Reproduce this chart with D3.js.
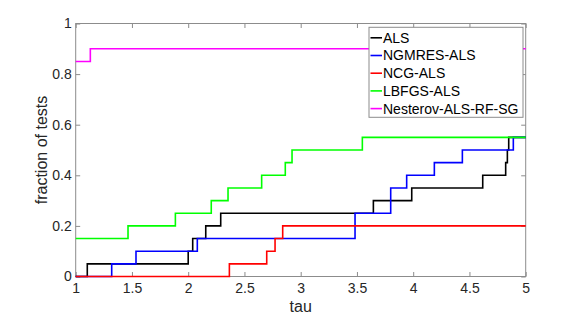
<!DOCTYPE html>
<html>
<head>
<script src="https://d3js.org/d3.v7.min.js"></script>
<style>
  body { margin: 0; background: #fff; }
  text { font-family: "Liberation Sans", Arial, sans-serif; }
</style>
</head>
<body>
<script>
// step data: tau where each step starts, and fraction of tests from there on
var alsTau = [1, 1.103, 2.0, 2.04, 2.156, 2.289, 3.646, 3.987, 4.618, 4.822, 4.837, 4.849, 5];
var alsVal = [0, 0.05, 0.1, 0.15, 0.2, 0.25, 0.3, 0.35, 0.4, 0.45, 0.5, 0.55, 0.55];

var ngmresTau = [1, 1.32, 1.536, 2.081, 3.483, 3.8, 3.942, 4.188, 4.437, 4.89, 5];
var ngmresVal = [0, 0.05, 0.1, 0.15, 0.25, 0.35, 0.4, 0.45, 0.5, 0.55, 0.55];

var ncgTau = [1, 2.366, 2.698, 2.772, 2.84, 5];
var ncgVal = [0, 0.05, 0.1, 0.15, 0.2, 0.2];

var lbfgsTau = [1, 1.465, 1.886, 2.205, 2.354, 2.653, 2.863, 2.923, 3.548, 5];
var lbfgsVal = [0.15, 0.2, 0.25, 0.3, 0.35, 0.4, 0.45, 0.5, 0.55, 0.55];

var nesterovTau = [1, 1.13, 5];
var nesterovVal = [0.85, 0.9, 0.9];

var names = ["ALS", "NGMRES-ALS", "NCG-ALS", "LBFGS-ALS", "Nesterov-ALS-RF-SG"];
var colors = ["#000000", "#0000ff", "#ff0000", "#00ff00", "#ff00ff"];
var xTicks = [1, 1.5, 2, 2.5, 3, 3.5, 4, 4.5, 5];
var yTicks = [0, 0.2, 0.4, 0.6, 0.8, 1];

var series = [
  [alsTau, alsVal], [ngmresTau, ngmresVal], [ncgTau, ncgVal],
  [lbfgsTau, lbfgsVal], [nesterovTau, nesterovVal]
];

var W = 581, H = 318;
var m = {left: 75.7, right: 55.3, top: 23.5, bottom: 41.5};
var pw = W - m.left - m.right, ph = H - m.top - m.bottom;

var svg = d3.select("body").append("svg").attr("width", W).attr("height", H);
var g = svg.append("g").attr("transform", "translate(" + m.left + "," + m.top + ")");

var x = d3.scaleLinear().domain([1, 5]).range([0, pw]);
var y = d3.scaleLinear().domain([0, 1]).range([ph, 0]);

var axisColor = "#8c8c8c";
var tl = 4.5;

// axes with inward ticks, box on
function styleAxis(sel) {
  sel.select(".domain").remove();
  sel.selectAll(".tick line").attr("stroke", axisColor);
  sel.selectAll(".tick text").attr("fill", "#262626").attr("font-size", "14px");
}
g.append("g").attr("transform", "translate(0," + ph + ")")
  .call(d3.axisBottom(x).tickValues(xTicks).tickSize(-tl).tickPadding(7).tickFormat(d3.format("")))
  .call(styleAxis);
g.append("g")
  .call(d3.axisTop(x).tickValues(xTicks).tickSize(-tl).tickFormat(""))
  .call(styleAxis);
g.append("g")
  .call(d3.axisLeft(y).tickValues(yTicks).tickSize(-tl).tickPadding(4).tickFormat(d3.format("")))
  .call(styleAxis);
g.append("g").attr("transform", "translate(" + pw + ",0)")
  .call(d3.axisRight(y).tickValues(yTicks).tickSize(-tl).tickFormat(""))
  .call(styleAxis);

g.append("rect").attr("width", pw).attr("height", ph)
  .attr("fill", "none").attr("stroke", axisColor).attr("stroke-width", 1);

// step lines
var line = d3.line()
  .x(function(d) { return x(d[0]); })
  .y(function(d) { return y(d[1]); })
  .curve(d3.curveStepAfter);

series.forEach(function(s, i) {
  var pts = s[0].map(function(t, j) { return [t, s[1][j]]; });
  g.append("path").datum(pts)
    .attr("d", line)
    .attr("fill", "none")
    .attr("stroke", colors[i])
    .attr("stroke-width", 1.6);
});

// labels
svg.append("text").attr("x", m.left + pw / 2).attr("y", 312)
  .attr("text-anchor", "middle").attr("font-size", "16px").attr("fill", "#262626").text("tau");
svg.append("text").attr("transform", "translate(47," + (m.top + ph / 2) + ") rotate(-90)")
  .attr("text-anchor", "middle").attr("font-size", "16px").attr("fill", "#262626").text("fraction of tests");

// legend
var lg = svg.append("g").attr("transform", "translate(369,27.3)");
lg.append("rect").attr("width", 154).attr("height", 90)
  .attr("fill", "#fff").attr("stroke", axisColor).attr("stroke-width", 1);
names.forEach(function(n, i) {
  var yy = 10.5 + i * 17.7;
  lg.append("line").attr("x1", 1.5).attr("x2", 13).attr("y1", yy).attr("y2", yy)
    .attr("stroke", colors[i]).attr("stroke-width", 1.6);
  lg.append("text").attr("x", 14).attr("y", yy + 5)
    .attr("font-size", "14px").attr("fill", "#000").text(n);
});
</script>
</body>
</html>
